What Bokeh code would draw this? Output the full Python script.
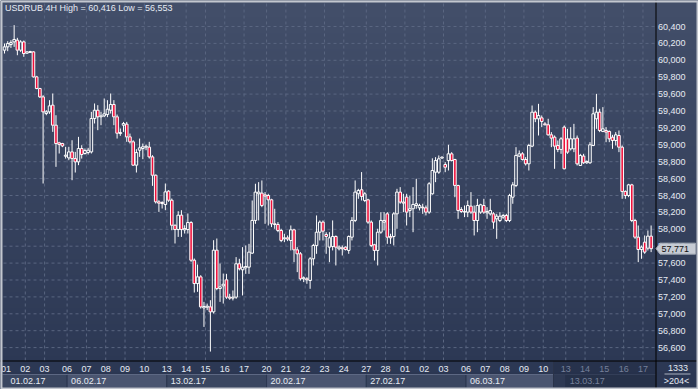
import numpy as np
from bokeh.plotting import figure
from bokeh.models import Range1d, ColumnDataSource
from bokeh.embed import file_html
from bokeh.resources import INLINE
from bokeh.core.properties import value

# ---------------- data (USDRUB 4H) ----------------
open_ = [
    60.120, 60.159, 60.187, 60.218, 60.238, 60.120, 60.218, 60.084, 60.092, 60.100,
    59.804, 59.666, 59.567, 59.370, 59.390, 59.469, 59.232, 59.023, 59.015, 58.865,
    58.845, 58.916, 58.837, 58.798, 58.956, 58.897, 58.908, 58.916, 59.311, 59.409,
    59.331, 59.342, 59.358, 59.409, 59.477, 59.331, 59.133, 59.232, 59.244, 59.094,
    59.035, 58.759, 58.936, 58.956, 58.972, 58.972, 58.857, 58.640, 58.325, 58.317,
    58.293, 58.451, 58.344, 58.048, 57.997, 58.167, 57.993, 57.997, 58.080, 57.634,
    57.358, 57.437, 57.070, 57.078, 57.082, 57.023, 57.753, 57.299, 57.331, 57.402,
    57.197, 57.185, 57.197, 57.592, 57.521, 57.544, 57.552, 57.718, 58.105, 58.420,
    58.428, 58.408, 58.400, 58.349, 58.065, 58.057, 57.986, 57.888, 57.899, 57.868,
    57.994, 57.757, 57.710, 57.414, 57.414, 57.394, 57.651, 57.809, 57.966, 58.085,
    57.939, 57.789, 57.797, 57.915, 57.769, 57.781, 57.789, 57.750, 57.907, 58.105,
    58.420, 58.468, 58.341, 58.349, 58.085, 57.817, 57.750, 57.966, 58.085, 58.183,
    57.915, 57.915, 58.183, 58.440, 58.322, 58.381, 58.223, 58.243, 58.282, 58.254,
    58.262, 58.254, 58.203, 58.420, 58.676, 58.676, 58.842, 58.767, 58.814, 58.893,
    58.826, 58.519, 58.234, 58.203, 58.203, 58.274, 58.203, 58.104, 58.203, 58.282,
    58.195, 58.183, 58.183, 58.124, 58.104, 58.144, 58.163, 58.104, 58.380, 58.519,
    58.866, 58.893, 58.826, 58.775, 58.984, 59.386, 59.308, 59.319, 59.248, 59.237,
    59.118, 59.090, 58.992, 58.945, 59.209, 59.071, 58.952, 58.952, 59.079, 58.755,
    58.866, 58.787, 58.787, 58.992, 59.308, 59.386, 59.158, 59.169, 59.158, 59.090,
    59.051, 59.110, 58.972, 58.448, 58.400, 58.526, 58.104, 57.907, 57.761, 57.848,
    57.777, 57.919,
]
high = [
    60.198, 60.226, 60.238, 60.416, 60.266, 60.238, 60.234, 60.108, 60.112, 60.108,
    59.816, 59.674, 59.587, 59.409, 59.528, 59.607, 59.350, 59.035, 59.023, 58.976,
    58.976, 59.054, 58.916, 59.094, 58.995, 58.956, 58.964, 59.390, 59.489, 59.469,
    59.390, 59.548, 59.528, 59.607, 59.528, 59.358, 59.193, 59.271, 59.271, 59.133,
    59.054, 58.948, 59.074, 59.015, 59.003, 59.035, 58.877, 58.648, 58.344, 58.332,
    58.542, 58.463, 58.364, 58.056, 58.214, 58.226, 58.048, 58.187, 58.096, 57.654,
    57.583, 57.457, 57.141, 57.121, 57.161, 57.871, 57.891, 57.595, 57.476, 57.473,
    57.237, 57.276, 57.671, 57.651, 57.789, 57.809, 57.828, 58.341, 58.539, 58.558,
    58.578, 58.440, 58.420, 58.361, 58.243, 58.085, 58.006, 57.947, 57.927, 58.045,
    58.006, 57.789, 57.730, 57.442, 57.434, 57.671, 57.828, 58.164, 58.105, 58.105,
    57.966, 57.966, 58.105, 57.927, 57.809, 57.809, 57.797, 57.927, 58.144, 58.578,
    58.479, 58.677, 58.440, 58.361, 58.105, 57.828, 58.006, 58.203, 58.203, 58.203,
    57.947, 58.203, 58.479, 58.499, 58.420, 58.420, 58.400, 58.499, 58.598, 58.302,
    58.302, 58.282, 58.558, 58.840, 58.854, 58.874, 58.862, 58.795, 59.000, 58.913,
    58.834, 58.526, 58.262, 58.282, 58.341, 58.440, 58.282, 58.361, 58.302, 58.361,
    58.262, 58.361, 58.203, 58.183, 58.203, 58.183, 58.183, 58.420, 58.558, 58.972,
    58.933, 58.913, 58.854, 59.012, 59.465, 59.406, 59.485, 59.347, 59.268, 59.308,
    59.150, 59.110, 59.051, 59.090, 59.229, 59.189, 59.209, 59.248, 59.110, 58.893,
    58.893, 58.814, 59.031, 59.446, 59.603, 59.426, 59.446, 59.209, 59.169, 59.118,
    59.150, 59.169, 58.992, 58.460, 58.538, 58.538, 58.124, 58.045, 57.808, 57.927,
    57.986, 58.045,
]
low = [
    60.080, 60.108, 60.147, 60.159, 60.060, 60.100, 60.041, 60.076, 60.088, 59.796,
    59.658, 59.555, 58.542, 59.350, 59.366, 59.153, 58.739, 58.897, 58.972, 58.837,
    58.818, 58.581, 58.672, 58.759, 58.837, 58.885, 58.885, 58.897, 59.252, 59.173,
    59.232, 59.327, 59.327, 59.370, 59.232, 59.074, 59.106, 59.153, 59.035, 59.015,
    58.751, 58.672, 58.857, 58.830, 58.936, 58.837, 58.514, 58.305, 58.206, 58.246,
    58.226, 58.325, 57.989, 57.832, 57.910, 57.910, 57.950, 57.950, 57.615, 57.252,
    57.260, 57.062, 56.845, 57.043, 56.553, 57.003, 57.279, 57.141, 57.121, 57.177,
    57.166, 57.158, 57.177, 57.513, 57.217, 57.473, 57.473, 57.710, 58.065, 58.105,
    58.262, 58.065, 58.045, 58.026, 58.006, 57.966, 57.848, 57.848, 57.860, 57.750,
    57.611, 57.493, 57.394, 57.375, 57.355, 57.296, 57.572, 57.710, 57.868, 57.868,
    57.710, 57.611, 57.750, 57.572, 57.750, 57.690, 57.750, 57.710, 57.868, 58.085,
    58.361, 58.341, 58.322, 58.065, 57.789, 57.631, 57.572, 57.947, 57.986, 57.828,
    57.828, 57.809, 58.006, 58.302, 58.203, 58.045, 58.144, 57.966, 58.243, 58.223,
    58.183, 58.164, 58.183, 58.410, 58.558, 58.657, 58.838, 58.676, 58.696, 58.803,
    58.380, 58.124, 58.195, 58.144, 58.144, 58.183, 57.927, 57.966, 58.183, 58.183,
    58.124, 58.163, 58.006, 57.887, 58.085, 58.124, 58.085, 58.085, 58.302, 58.499,
    58.854, 58.814, 58.755, 58.696, 58.972, 59.268, 59.110, 59.209, 59.229, 59.110,
    58.972, 58.716, 58.913, 58.893, 58.710, 58.893, 58.933, 58.913, 58.755, 58.750,
    58.775, 58.775, 58.775, 58.984, 59.189, 59.150, 59.150, 59.031, 59.031, 58.952,
    58.992, 58.913, 58.361, 58.361, 58.380, 58.085, 57.887, 57.611, 57.651, 57.710,
    57.749, 57.730,
]
close = [
    60.159, 60.198, 60.210, 60.246, 60.120, 60.218, 60.080, 60.100, 60.104, 59.804,
    59.666, 59.567, 59.390, 59.390, 59.461, 59.232, 59.015, 59.003, 58.987, 58.877,
    58.916, 58.837, 58.798, 58.956, 58.885, 58.932, 58.936, 59.311, 59.409, 59.331,
    59.342, 59.366, 59.421, 59.477, 59.331, 59.137, 59.145, 59.252, 59.094, 59.035,
    58.759, 58.908, 58.964, 58.976, 58.983, 58.857, 58.640, 58.325, 58.309, 58.305,
    58.443, 58.344, 58.048, 57.997, 58.167, 57.997, 58.009, 58.080, 57.634, 57.358,
    57.437, 57.082, 57.086, 57.090, 57.023, 57.753, 57.299, 57.319, 57.350, 57.197,
    57.185, 57.197, 57.592, 57.533, 57.552, 57.560, 57.730, 58.105, 58.440, 58.440,
    58.282, 58.393, 58.349, 58.065, 58.057, 57.986, 57.868, 57.899, 57.884, 57.994,
    57.757, 57.710, 57.414, 57.426, 57.402, 57.651, 57.809, 57.966, 58.085, 57.978,
    57.915, 57.899, 57.915, 57.789, 57.789, 57.769, 57.761, 57.915, 58.105, 58.440,
    58.460, 58.389, 58.420, 58.085, 57.809, 57.750, 57.966, 58.105, 58.105, 57.907,
    57.899, 58.183, 58.440, 58.322, 58.310, 58.203, 58.243, 58.294, 58.302, 58.282,
    58.254, 58.203, 58.539, 58.696, 58.814, 58.834, 58.854, 58.735, 58.893, 58.814,
    58.519, 58.223, 58.211, 58.211, 58.282, 58.203, 58.104, 58.282, 58.290, 58.203,
    58.211, 58.223, 58.085, 58.155, 58.155, 58.163, 58.104, 58.400, 58.526, 58.874,
    58.893, 58.826, 58.775, 58.992, 59.386, 59.308, 59.347, 59.276, 59.237, 59.118,
    59.079, 58.984, 58.945, 59.071, 58.716, 58.913, 59.071, 59.071, 58.775, 58.874,
    58.787, 58.803, 59.000, 59.367, 59.386, 59.169, 59.189, 59.150, 59.071, 59.051,
    59.118, 58.972, 58.448, 58.400, 58.526, 58.104, 57.907, 57.761, 57.789, 57.730,
    57.919, 57.771,
]

day_labels = ["01", "02", "03",
              "06", "07", "08", "09", "10",
              "13", "14", "15", "16", "17",
              "20", "21", "22", "23", "24",
              "27", "28", "01", "02", "03",
              "06", "07", "08", "09", "10",
              "13", "14", "15", "16", "17"]
day_start = [0, 6, 12,
             19, 25, 31, 37, 43,
             50, 56, 62, 68, 74,
             81, 87, 93, 99, 105,
             112, 118, 124, 130, 136,
             143, 149, 155, 161, 167,
             174, 180, 186, 192, 198]
week_labels = ["01.02.17", "06.02.17", "13.02.17", "20.02.17",
               "27.02.17", "06.03.17", "13.03.17"]
week_start = [0, 19, 50, 81, 112, 143, 174]
price_ticks = [56.6, 56.8, 57.0, 57.2, 57.4, 57.6, 57.8, 58.0, 58.2, 58.4,
               58.6, 58.8, 59.0, 59.2, 59.4, 59.6, 59.8, 60.0, 60.2, 60.4]
title_text = "USDRUB 4H High = 60,416 Low = 56,553"
last_price = 57.771
bars_total = "1333"
bars_visible = ">204<"

# ---------------- pixel <-> data mapping ----------------
W, H = 698, 389
X0PX, BARPX = 4.0, 3.217          # pixel of bar 0, pixels per bar
Y0PX, P0, PX200 = 26.0, 60.4, 16.9  # pixel of 60.400, pixels per 0.200
K = 0.2 / PX200


def xd(px):
    return (px - X0PX) / BARPX


def yd(py):
    return P0 - (py - Y0PX) * K


FONT = value("Liberation Sans")
FS = "9px"
TXT = "#e6ebf3"
DIM = "#75809a"

p = figure(width=W, height=H, x_range=Range1d(xd(0), xd(W)), y_range=Range1d(yd(H), yd(0)),
           toolbar_location=None, output_backend="svg", min_border=0,
           x_axis_location=None, y_axis_location=None)
p.grid.visible = False
p.outline_line_color = None
p.background_fill_color = "#36425c"
p.border_fill_color = "#36425c"

# vertical gradient background
top_c = np.array([67, 79, 106], dtype=float)
bot_c = np.array([43, 55, 83], dtype=float)
img = np.empty((H, 1), dtype=np.uint32)
view = img.view(dtype=np.uint8).reshape((H, 1, 4))
for r in range(H):
    t = (H - 1 - r) / (H - 1)  # r=0 bottom
    c = top_c * (1 - t) + bot_c * t
    view[r, 0, 0:3] = c.astype(np.uint8)
    view[r, 0, 3] = 255
p.image_rgba(image=[img], x=xd(0), y=yd(H), dw=xd(W) - xd(0), dh=yd(0) - yd(H))

# grid
p.segment(x0=[xd(3)] * len(price_ticks), x1=[xd(656)] * len(price_ticks),
          y0=price_ticks, y1=price_ticks, line_color="#5a6681", line_dash="3 3", line_width=1)
gx = [d + 1.5 / BARPX for d in day_start[1:]]
p.segment(x0=gx, x1=gx, y0=[yd(3)] * len(gx), y1=[yd(360)] * len(gx),
          line_color="#5a6681", line_dash="3 3", line_width=1)

# candles
idx = list(range(len(close)))
btop = [max(o, c) for o, c in zip(open_, close)]
bbot = [min(o, c) for o, c in zip(open_, close)]
p.segment(x0=idx, x1=idx, y0=high, y1=btop, line_color="white", line_width=1)
p.segment(x0=idx, x1=idx, y0=bbot, y1=low, line_color="white", line_width=1)
is_up = [close[i] >= open_[i] for i in idx]
up = ColumnDataSource(dict(x=[i for i in idx if is_up[i]],
                           t=[btop[i] for i in idx if is_up[i]],
                           b=[bbot[i] for i in idx if is_up[i]]))
dn = ColumnDataSource(dict(x=[i for i in idx if not is_up[i]],
                           t=[btop[i] for i in idx if not is_up[i]],
                           b=[bbot[i] for i in idx if not is_up[i]]))
p.vbar(x="x", top="t", bottom="b", width=0.8, source=up, fill_alpha=0,
       line_color="white", line_width=1)
p.vbar(x="x", top="t", bottom="b", width=0.8, source=dn, fill_color="#ee0f3a",
       line_color="white", line_width=1)

# title
p.text(x=[xd(4.5)], y=[yd(7.5)], text=[title_text], text_font=FONT, text_font_size=FS,
       text_color=TXT, text_baseline="middle", text_align="left")

# week boxes on the lower axis
wl = [xd(2)] + [xd(X0PX + BARPX * w + 1.5) for w in week_start[1:]]
wr = wl[1:] + [xd(655.5)]
wcol = ["#3a4660", "#4a5570", "#3a4660", "#4a5570", "#3a4660", "#4a5570", "#2a3449"]
p.quad(left=wl, right=wr, top=[yd(373.5)] * 7, bottom=[yd(387.5)] * 7,
       fill_color=wcol, line_color="#2c3750", line_width=1)
p.segment(x0=wl, x1=wr, y0=[yd(374)] * 7, y1=[yd(374)] * 7, line_color="#5d6883", line_width=1)
# dimmed last week
p.quad(left=[xd(553)], right=[xd(655.5)], top=[yd(361)], bottom=[yd(387.5)],
       fill_color="#26304a", fill_alpha=0.75, line_color="#2a3349")

wtx = [xd(10)] + [l + 4 / BARPX for l in wl[1:]]
wcolors = [TXT] * 6 + [DIM]
p.text(x=wtx, y=[yd(380)] * 7, text=week_labels, text_font=FONT, text_font_size=FS,
       text_color=wcolors, text_baseline="middle", text_align="left")

dcolors = [TXT] * 28 + [DIM] * 5
p.text(x=[d + 1.5 / BARPX for d in day_start], y=[yd(368.5)] * len(day_start), text=day_labels,
       text_font=FONT, text_font_size=FS, text_color=dcolors,
       text_baseline="middle", text_align="center")

# axis lines
p.segment(x0=[xd(655.5)], x1=[xd(655.5)], y0=[yd(0)], y1=[yd(H)], line_color="black", line_width=1)
p.segment(x0=[xd(0)], x1=[xd(W)], y0=[yd(360.5)], y1=[yd(360.5)], line_color="black", line_width=1)

# price axis labels
p.text(x=[xd(657.5)] * len(price_ticks), y=price_ticks,
       text=[f"{t:.3f}".replace(".", ",") for t in price_ticks],
       text_font=FONT, text_font_size=FS, text_color=TXT,
       text_baseline="middle", text_align="left")

# last price tag
hh = 5.5 * K
p.patch(x=[xd(655.5), xd(659.5), xd(695), xd(695), xd(659.5)],
        y=[last_price, last_price + hh, last_price + hh, last_price - hh, last_price - hh],
        fill_color="#c6cbd4", line_color="#9ea5b2", line_width=1)
p.text(x=[xd(661)], y=[last_price], text=[f"{last_price:.3f}".replace(".", ",")],
       text_font=FONT, text_font_size=FS, text_color="#111111",
       text_baseline="middle", text_align="left")

# bars counter box
p.text(x=[xd(677.5)], y=[yd(367.5)], text=[bars_total], text_font=FONT, text_font_size=FS,
       text_color=TXT, text_baseline="middle", text_align="center")
p.segment(x0=[xd(664)], x1=[xd(690)], y0=[yd(373.5)], y1=[yd(373.5)], line_color="#a9b1bf")
p.text(x=[xd(676)], y=[yd(380.5)], text=[bars_visible], text_font=FONT, text_font_size=FS,
       text_color=TXT, text_baseline="middle", text_align="center")

# outer frame
p.quad(left=[xd(1)], right=[xd(W - 1)], top=[yd(1)], bottom=[yd(H - 1)],
       fill_alpha=0, line_color="#c3c7cf", line_width=2)

open("out.html", "w").write(file_html(p, INLINE))
